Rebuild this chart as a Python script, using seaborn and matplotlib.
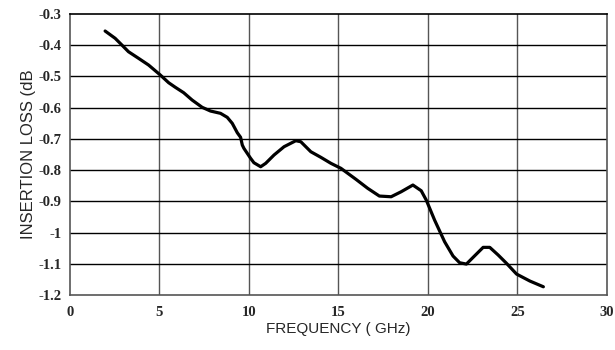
import matplotlib
matplotlib.use("Agg")
import matplotlib.pyplot as plt
import seaborn as sns
import pandas as pd

freq_ghz = [1.963, 2.523, 2.899, 3.269, 3.830, 4.391, 5.047, 5.512, 5.888, 6.353, 6.824,
            7.385, 7.850, 8.411, 8.787, 9.067, 9.348, 9.533, 9.628, 9.718, 10.093, 10.278,
            10.654, 10.935, 11.400, 11.961, 12.617, 12.897, 13.458, 14.019, 14.580, 15.140,
            15.981, 16.637, 17.288, 17.944, 18.505, 19.161, 19.626, 19.907, 20.372, 20.933,
            21.404, 21.774, 22.150, 22.525, 23.086, 23.456, 23.927, 24.393, 24.953, 25.699,
            26.451]
loss_db = [-0.3545, -0.3778, -0.3993, -0.4208, -0.4419, -0.4634, -0.4954, -0.5200, -0.5348,
           -0.5521, -0.5755, -0.5988, -0.6107, -0.6181, -0.6309, -0.6501, -0.6802, -0.6949,
           -0.7196, -0.7302, -0.7622, -0.7763, -0.7891, -0.7782, -0.7516, -0.7250, -0.7058,
           -0.7090, -0.7411, -0.7590, -0.7782, -0.7942, -0.8295, -0.8583, -0.8830, -0.8852,
           -0.8692, -0.8477, -0.8660, -0.8958, -0.9598, -1.0293, -1.0751, -1.0966, -1.1008,
           -1.0793, -1.0473, -1.0473, -1.0719, -1.0985, -1.1328, -1.1552, -1.1735]
x_ticks = [0, 5, 10, 15, 20, 25, 30]
y_ticks = [-0.3, -0.4, -0.5, -0.6, -0.7, -0.8, -0.9, -1.0, -1.1, -1.2]
y_tick_labels = ["-0.3", "-0.4", "-0.5", "-0.6", "-0.7", "-0.8", "-0.9", "-1", "-1.1", "-1.2"]

sns.set_style("white")
df = pd.DataFrame({"freq": freq_ghz, "loss": loss_db})

fig = plt.figure(figsize=(6.15, 3.5), dpi=100)
ax = fig.add_axes([0.1138, 0.157, 0.873, 0.803])
sns.lineplot(data=df, x="freq", y="loss", ax=ax, color="black", linewidth=2.3,
             solid_joinstyle="round", solid_capstyle="round")

ax.set_xlim(0, 30)
ax.set_ylim(-1.2, -0.3)
ax.set_xticks(x_ticks)
ax.set_yticks(y_ticks)
ax.set_xticklabels([str(t) for t in x_ticks], fontfamily="Liberation Serif",
                   fontweight="bold", fontsize=10.5)
ax.set_yticklabels(y_tick_labels, fontfamily="Liberation Serif",
                   fontweight="bold", fontsize=10.5)
ax.tick_params(axis="both", length=0, pad=8)
ax.tick_params(axis="y", pad=6)

for t in x_ticks[1:-1]:
    ax.axvline(t, color="#555555", linewidth=1, zorder=0)
for t in y_ticks[1:-1]:
    ax.axhline(t, color="black", linewidth=1, zorder=0)

for side in ["left", "bottom", "right"]:
    ax.spines[side].set_color("#555555")
    ax.spines[side].set_linewidth(1.2)
ax.spines["top"].set_color("black")
ax.spines["top"].set_linewidth(1.2)

ax.set_xlabel("FREQUENCY ( GHz)", fontfamily="Liberation Sans", fontsize=11, labelpad=2)
ax.set_ylabel("INSERTION LOSS (dB", fontfamily="Liberation Sans", fontsize=12, labelpad=2)

fig.savefig("out.png", dpi=100)
